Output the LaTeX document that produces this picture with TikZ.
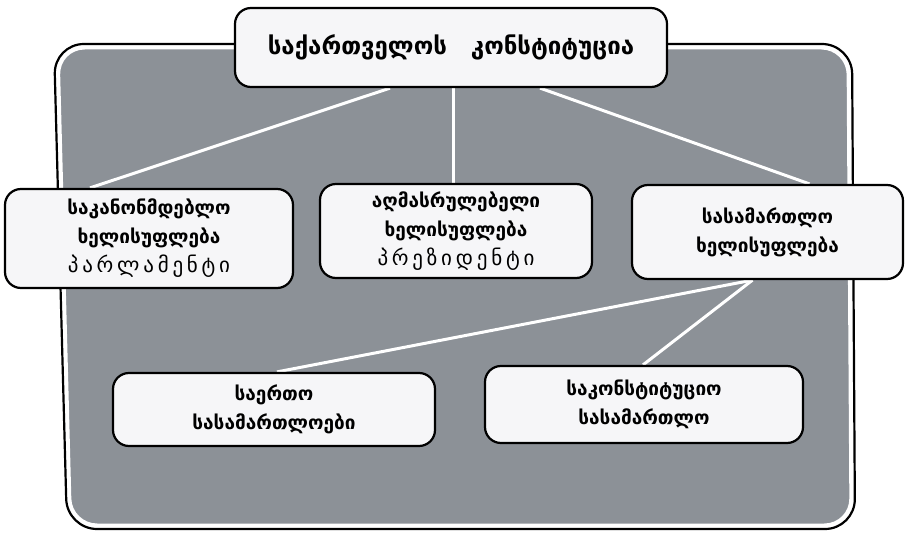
\documentclass[tikz,border=0pt]{standalone}
\usepackage{fontspec}
\usepackage{tikz}
\usetikzlibrary{backgrounds}
\newfontfamily\geo{DejaVu Sans Bold}
\newfontfamily\geosp[LetterSpace=18]{DejaVu Sans}
\definecolor{panelgrey}{RGB}{140,145,151}
\definecolor{boxwhite}{RGB}{246,246,248}

\begin{document}
\begin{tikzpicture}[x=1pt,y=-1pt,
  b/.style={draw,line width=2.2pt,fill=boxwhite,rounded corners=16pt,align=center,inner sep=0pt,font=\geo\fontsize{19}{29}\selectfont},
  ln/.style={white,line width=3pt}]
\useasboundingbox (0,0) rectangle (908,534);
\node[b,minimum width=432pt,minimum height=79pt,font=\geo\fontsize{24}{28}\selectfont] (t) at (451,47.5) {საქართველოს\quad კონსტიტუცია};
\node[b,minimum width=288pt,minimum height=99pt] (l) at (149,238.5) {საკანონმდებლო\\ხელისუფლება\\{\geosp\fontsize{21}{29}\selectfont პარლამენტი}};
\node[b,minimum width=272pt,minimum height=94pt] (m) at (456,231) {აღმასრულებელი\\ხელისუფლება\\{\geosp\fontsize{21}{29}\selectfont პრეზიდენტი}};
\node[b,minimum width=271pt,minimum height=94pt] (r) at (767.5,232) {სასამართლო\\ხელისუფლება};
\node[b,minimum width=322pt,minimum height=73pt] (cl) at (274,409.5) {საერთო\\სასამართლოები};
\node[b,minimum width=318pt,minimum height=77pt] (cr) at (644,404.5) {საკონსტიტუციო\\სასამართლო};
\begin{scope}[on background layer]
% grey panel with black rim
\draw[line width=2.2pt,rounded corners=30pt] (450,44) -- (54,44) -- (67,529) -- (855,529) -- (852,44) -- cycle;
\draw[fill=panelgrey,draw=white,line width=2pt,rounded corners=26pt] (450,48.5) -- (58.5,48.5) -- (71,524.5) -- (850.5,524.5) -- (847.5,48.5) -- cycle;
\draw[ln] ([xshift=-61pt]t.south) -- ([xshift=-59pt]l.north);
\draw[ln] ([xshift=2pt]t.south) -- ([xshift=-3pt]m.north);
\draw[ln] ([xshift=89pt]t.south) -- ([xshift=42pt]r.north);
\draw[ln] ([xshift=-15pt]r.south) -- ([xshift=3pt]cl.north);
\draw[ln] ([xshift=-15pt]r.south) -- ([xshift=-1pt]cr.north);
\end{scope}
\end{tikzpicture}
\end{document}
